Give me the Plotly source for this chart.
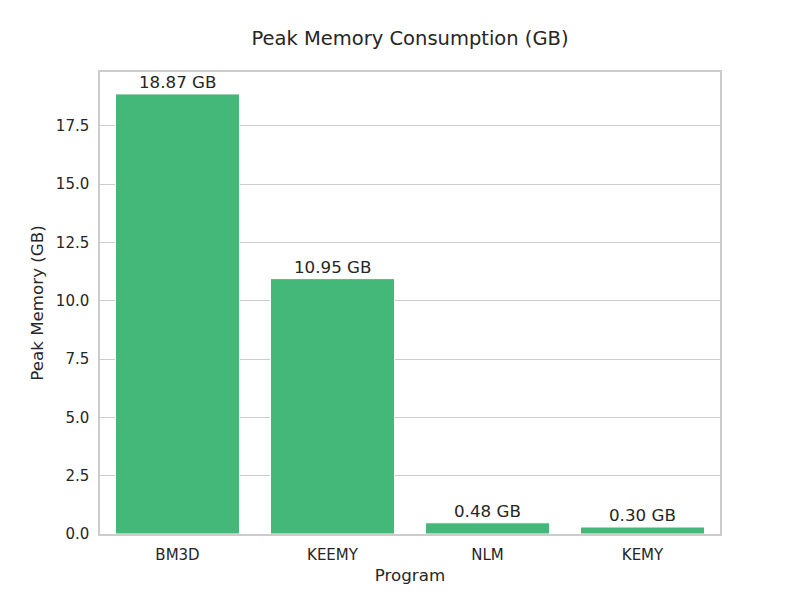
import plotly.graph_objects as go

programs = ['BM3D', 'KEEMY', 'NLM', 'KEMY']
peak_gb = [18.87, 10.95, 0.48, 0.30]
y_ticks = [0.0, 2.5, 5.0, 7.5, 10.0, 12.5, 15.0, 17.5]

BAR = '#43b879'
GRID = '#cccccc'
TEXT = '#262626'
FONT = 'DejaVu Sans, sans-serif'

fig = go.Figure()
fig.add_trace(go.Bar(
    x=list(range(len(programs))), y=peak_gb, width=0.8,
    marker=dict(color=BAR, line=dict(color='white', width=1)),
    showlegend=False,
))

for i, v in enumerate(peak_gb):
    fig.add_annotation(
        x=i, y=v, text=f'{v:.2f} GB', showarrow=False,
        yanchor='bottom', yshift=0,
        font=dict(size=16.7, color=TEXT, family=FONT),
    )

fig.update_layout(
    width=800, height=600,
    paper_bgcolor='white', plot_bgcolor='white',
    margin=dict(l=92, r=88, t=64, b=74),
    font=dict(family=FONT, color=TEXT, size=15),
    title=dict(text='Peak Memory Consumption (GB)', x=402 / 800, xanchor='center',
               y=1 - 30 / 600, yanchor='middle',
               font=dict(size=19.5, color=TEXT, family=FONT)),
    bargap=0.2,
)
fig.update_xaxes(
    range=[-0.5, 3.5], tickmode='array',
    tickvals=list(range(len(programs))), ticktext=programs,
    showgrid=False, zeroline=False,
    showline=True, linecolor=GRID, linewidth=1.5, mirror=True,
    ticks='', ticklabelstandoff=6,
    title=dict(text='Program', font=dict(size=16.7), standoff=7),
    tickfont=dict(size=15),
)
fig.update_yaxes(
    range=[0, 19.81], tickmode='array', tickvals=y_ticks,
    ticktext=[f'{t:.1f}' for t in y_ticks],
    showgrid=True, gridcolor=GRID, gridwidth=1.2, zeroline=False,
    showline=True, linecolor=GRID, linewidth=1.5, mirror=True,
    ticks='', ticklabelstandoff=6,
    title=dict(text='Peak Memory (GB)', font=dict(size=16.7), standoff=8),
    tickfont=dict(size=15),
)

fig.write_html('out.html')
